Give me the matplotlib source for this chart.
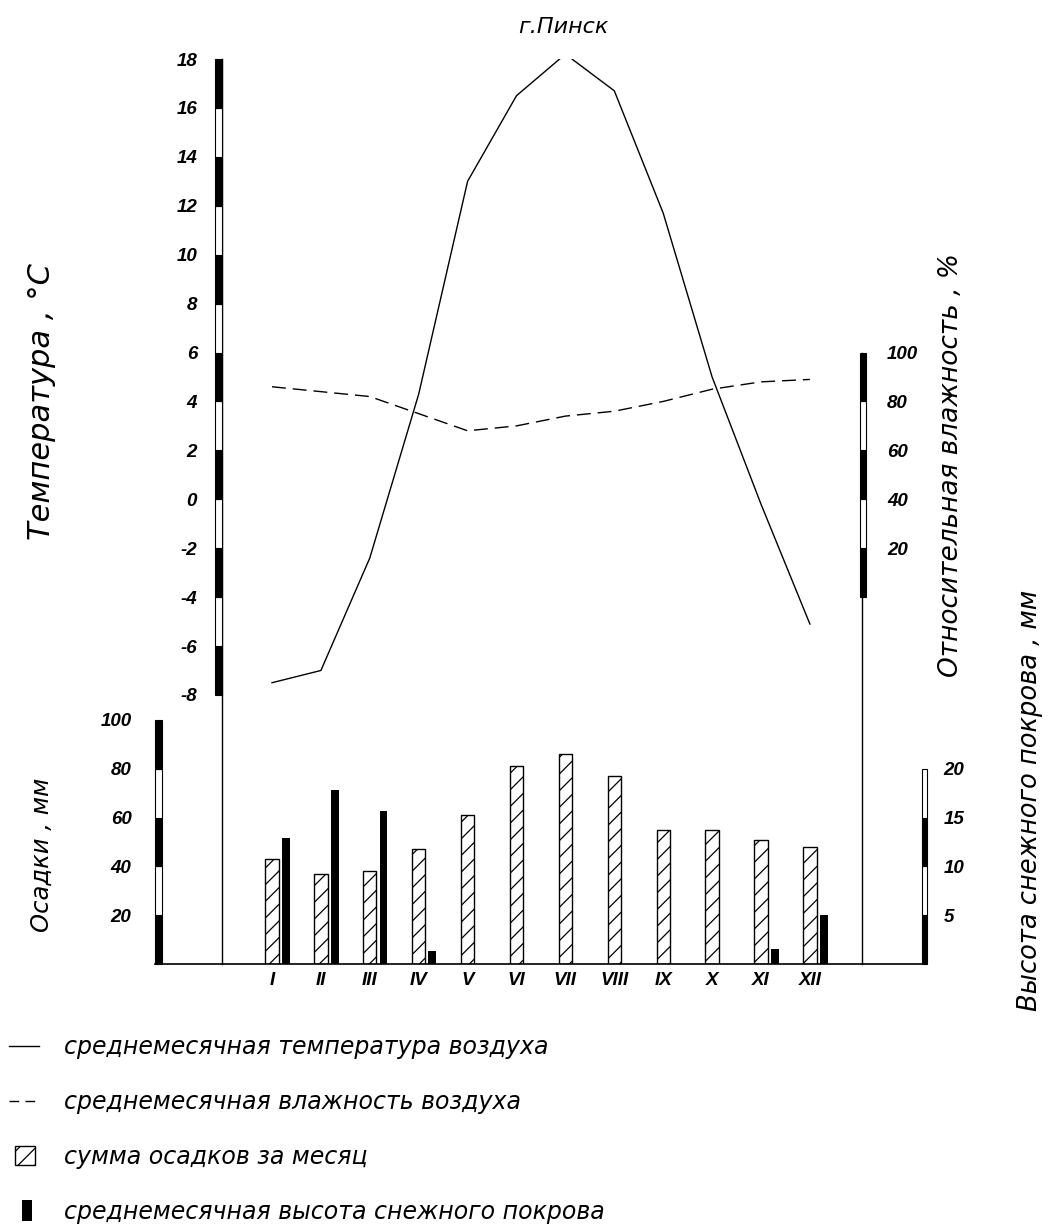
import numpy as np
import matplotlib
matplotlib.use('Agg')
import matplotlib.pyplot as plt
from matplotlib.patches import Rectangle, Patch
from matplotlib.lines import Line2D
from matplotlib.legend_handler import HandlerPatch

# climate data, Pinsk
months = np.arange(1, 13)
month_labels = ['I', 'II', 'III', 'IV', 'V', 'VI', 'VII', 'VIII', 'IX', 'X', 'XI', 'XII']
temperature = [-7.5, -7.0, -2.4, 4.3, 13.0, 16.5, 18.2, 16.7, 11.7, 5.0, -0.2, -5.1]
humidity = [86, 84, 82, 75, 68, 70, 74, 76, 80, 85, 88, 89]
precipitation = [43, 37, 38, 47, 61, 81, 86, 77, 55, 55, 51, 48]
snow_depth = [12.9, 17.8, 15.7, 1.3, 0, 0, 0, 0, 0, 0, 1.5, 5.0]

temp_ticks = list(range(-8, 19, 2))
hum_ticks = [20, 40, 60, 80, 100]
prec_ticks = [20, 40, 60, 80, 100]
snow_ticks = [5, 10, 15, 20]

W, H = 1053, 1231
plt.rcParams['font.family'] = ['DejaVu Sans']
plt.rcParams['font.style'] = 'italic'
plt.rcParams['hatch.linewidth'] = 0.9

# numbers in a narrower face than DejaVu
num_font = dict(family=['Liberation Sans', 'DejaVu Sans'], size=13.5, weight='bold')
month_font = dict(family=['Liberation Sans', 'DejaVu Sans'], size=13.5, weight='bold')

fig = plt.figure(figsize=(W / 100, H / 100), dpi=100)


def box(left, top, right, bottom):
    # pixel box -> figure fraction rect
    return [left / W, 1 - bottom / H, (right - left) / W, (bottom - top) / H]


def scale_bar(ax, x0, width, edges):
    tr = ax.get_yaxis_transform()
    for i in range(len(edges) - 1):
        black = i % 2 == 0
        ax.add_patch(Rectangle((x0, edges[i]), width, edges[i + 1] - edges[i],
                               transform=tr, facecolor='black' if black else 'white',
                               edgecolor='black', lw=0.8, clip_on=False, zorder=5))


def set_ticklabels(ax, axis, ticks, labels, font):
    if axis == 'y':
        ax.set_yticks(ticks)
        ax.set_yticklabels(labels, **font)
    else:
        ax.set_xticks(ticks)
        ax.set_xticklabels(labels, **font)


# upper part: temperature + humidity
ax_t = fig.add_axes(box(222, 59, 862, 964))
ax_t.set_facecolor('none')
ax_t.set_ylim(-19, 18)
ax_t.set_xlim(1 - 50 / 48.9, 1 + 590 / 48.9)
ax_t.plot(months, temperature, color='black', lw=1.0)
for s in ['top', 'right', 'bottom']:
    ax_t.spines[s].set_visible(False)
ax_t.spines['left'].set_bounds(-19, 18)
ax_t.spines['left'].set_linewidth(1.0)
ax_t.set_xticks([])
set_ticklabels(ax_t, 'y', temp_ticks, [str(t) for t in temp_ticks], num_font)
ax_t.tick_params(axis='y', length=0, pad=18)
scale_bar(ax_t, -7 / 640, 7 / 640, temp_ticks)

ax_h = ax_t.twinx()
ax_h.set_ylim(-150, 220)
ax_h.plot(months, humidity, color='black', lw=1.0, dashes=(10, 5))
for s in ['top', 'left', 'bottom']:
    ax_h.spines[s].set_visible(False)
ax_h.spines['right'].set_bounds(-150, 100)
ax_h.spines['right'].set_linewidth(1.0)
set_ticklabels(ax_h, 'y', hum_ticks, [str(t) for t in hum_ticks], num_font)
ax_h.tick_params(axis='y', length=0, pad=18)
scale_bar(ax_h, 1 - 2 / 640, 6 / 640, [0] + hum_ticks)

# lower part: precipitation + snow cover
ax_p = fig.add_axes(box(155, 720, 927, 964))
ax_p.set_facecolor('none')
ax_p.set_ylim(0, 100)
ax_p.set_xlim(1 - 117 / 48.9, 1 + 655 / 48.9)
ax_p.bar(months, precipitation, width=0.27, facecolor='white', edgecolor='black',
         hatch='//', lw=1.0)
for s in ['top', 'left', 'right']:
    ax_p.spines[s].set_visible(False)
ax_p.spines['bottom'].set_linewidth(1.2)
set_ticklabels(ax_p, 'y', prec_ticks, [str(t) for t in prec_ticks], num_font)
ax_p.tick_params(axis='y', length=0, pad=17)
set_ticklabels(ax_p, 'x', months, month_labels, month_font)
ax_p.tick_params(axis='x', length=0, pad=6)
scale_bar(ax_p, 0, 7 / 772, [0] + prec_ticks)

ax_s = ax_p.twinx()
ax_s.set_ylim(0, 25)
ax_s.bar(months + 0.28, snow_depth, width=0.16, color='black', lw=0)
for s in ['top', 'left', 'right', 'bottom']:
    ax_s.spines[s].set_visible(False)
set_ticklabels(ax_s, 'y', snow_ticks, [str(t) for t in snow_ticks], num_font)
ax_s.tick_params(axis='y', length=0, pad=12)
scale_bar(ax_s, 1 - 5 / 772, 5 / 772, [0] + snow_ticks)

# titles
fig.text(563 / W, 1 - 27 / H, 'г.Пинск', ha='center', va='center', fontsize=16)
fig.text(42 / W, 1 - 402 / H, 'Температура , °С', rotation=90, ha='center', va='center', fontsize=22)
fig.text(42 / W, 1 - 855 / H, 'Осадки , мм', rotation=90, ha='center', va='center', fontsize=17.5)
fig.text(951 / W, 1 - 465 / H, 'Относительная влажность , %', rotation=90, ha='center', va='center', fontsize=19)
fig.text(1030 / W, 1 - 800 / H, 'Высота снежного покрова , мм', rotation=90, ha='center', va='center', fontsize=18.5)


# legend
def square_handle(legend, orig_handle, xdescent, ydescent, width, height, fontsize):
    s = height * 1.2
    return Rectangle((-xdescent + 4, -ydescent + (height - s) / 2), s, s)


def narrow_handle(legend, orig_handle, xdescent, ydescent, width, height, fontsize):
    s = height * 1.3
    return Rectangle((-xdescent + 9, -ydescent + (height - s) / 2), s * 0.45, s)


handles = [
    Line2D([], [], color='black', lw=1.0),
    Line2D([], [], color='black', lw=1.0, dashes=(7, 4.5)),
    Patch(facecolor='white', edgecolor='black', hatch='//', lw=1.0),
    Patch(facecolor='black'),
]
labels = ['среднемесячная температура воздуха',
          'среднемесячная влажность воздуха',
          'сумма осадков за месяц',
          'среднемесячная высота снежного покрова']
fig.legend(handles, labels, loc='upper left', bbox_to_anchor=(0.0, 1 - 1026 / H),
           frameon=False, fontsize=17, handlelength=1.27, handletextpad=1.06,
           labelspacing=1.3, borderpad=0.4, borderaxespad=0,
           handler_map={handles[2]: HandlerPatch(patch_func=square_handle),
                        handles[3]: HandlerPatch(patch_func=narrow_handle)})

fig.savefig('out.png', dpi=100)
